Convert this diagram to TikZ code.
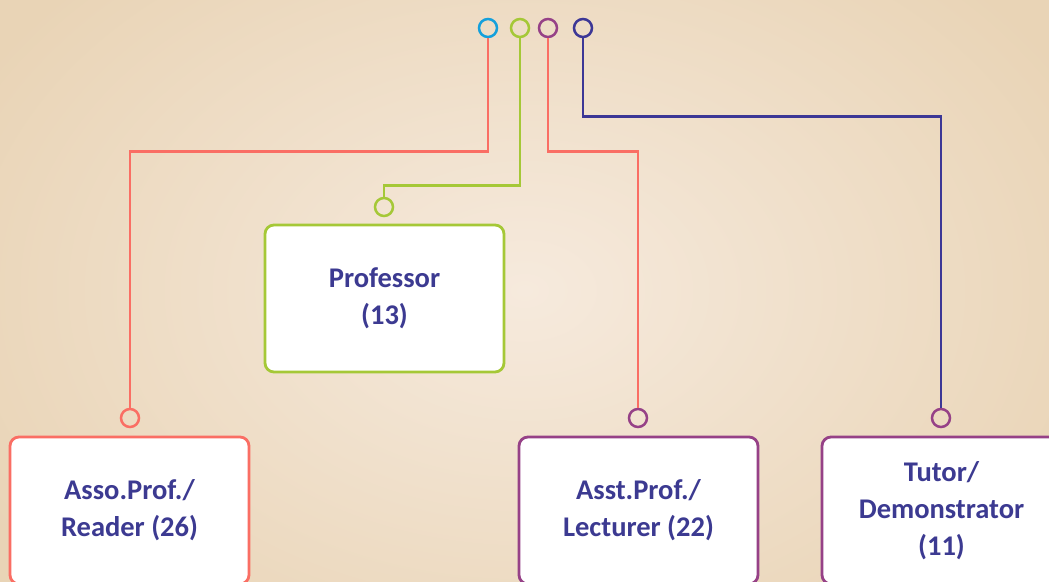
\documentclass[tikz,border=0pt]{standalone}
\usepackage{fontspec}
\setmainfont{Carlito}
\definecolor{bgin}{RGB}{246,234,221}
\definecolor{bgout}{RGB}{233,212,182}
\definecolor{salmon}{RGB}{250,110,100}
\definecolor{lgreen}{RGB}{165,200,55}
\definecolor{plum}{RGB}{150,65,135}
\definecolor{navy}{RGB}{60,55,150}
\definecolor{sky}{RGB}{20,160,220}
\definecolor{txt}{RGB}{60,58,145}
\begin{document}
\begin{tikzpicture}[x=1pt,y=-1pt,
  pin/.style={circle,draw=#1,line width=2.5pt,fill=none,minimum size=18pt,inner sep=0pt},
  card/.style={rectangle,rounded corners=9pt,draw=#1,line width=2.8pt,fill=white,
    minimum width=239pt,minimum height=147pt,inner sep=0pt,align=center,
    text=txt,font=\fontsize{28.5}{37}\selectfont\bfseries},
  wire/.style={draw=#1,line width=2.8pt}]
\useasboundingbox (0,0) rectangle (1049,581);
\clip (0,0) rectangle (1049,581);
\shade[inner color=bgin,outer color=bgout] (-100,-150) rectangle (1149,731);
% top pins
\node[pin=sky] (c1) at (488,28) {};
\node[pin=lgreen] (c2) at (520,28) {};
\node[pin=plum] (c3) at (548,28) {};
\node[pin=navy] (c4) at (583,28) {};
% cards
\node[card=lgreen] (prof) at (384.5,298.5) {Professor\\(13)};
\node[card=salmon] (asso) at (129.5,510.5) {Asso.Prof./\\Reader (26)};
\node[card=plum] (asst) at (638.5,510.5) {Asst.Prof./\\Lecturer (22)};
\node[card=plum] (tut) at (941.5,510.5) {Tutor/\\Demonstrator\\(11)};
% lower pins
\node[pin=lgreen] (pp) at (384,207) {};
\node[pin=salmon] (pa) at (130,418) {};
\node[pin=plum] (pb) at (638,418) {};
\node[pin=plum] (pc) at (941,418) {};
% wires
\draw[wire=salmon] (c1.south) -- ++(0,113) -| (pa.north);
\draw[wire=lgreen] (c2.south) -- ++(0,147) -| (pp.north);
\draw[wire=salmon] (c3.south) -- ++(0,113) -| (pb.north);
\draw[wire=navy] (c4.south) -- ++(0,78) -| (pc.north);
\end{tikzpicture}
\end{document}
